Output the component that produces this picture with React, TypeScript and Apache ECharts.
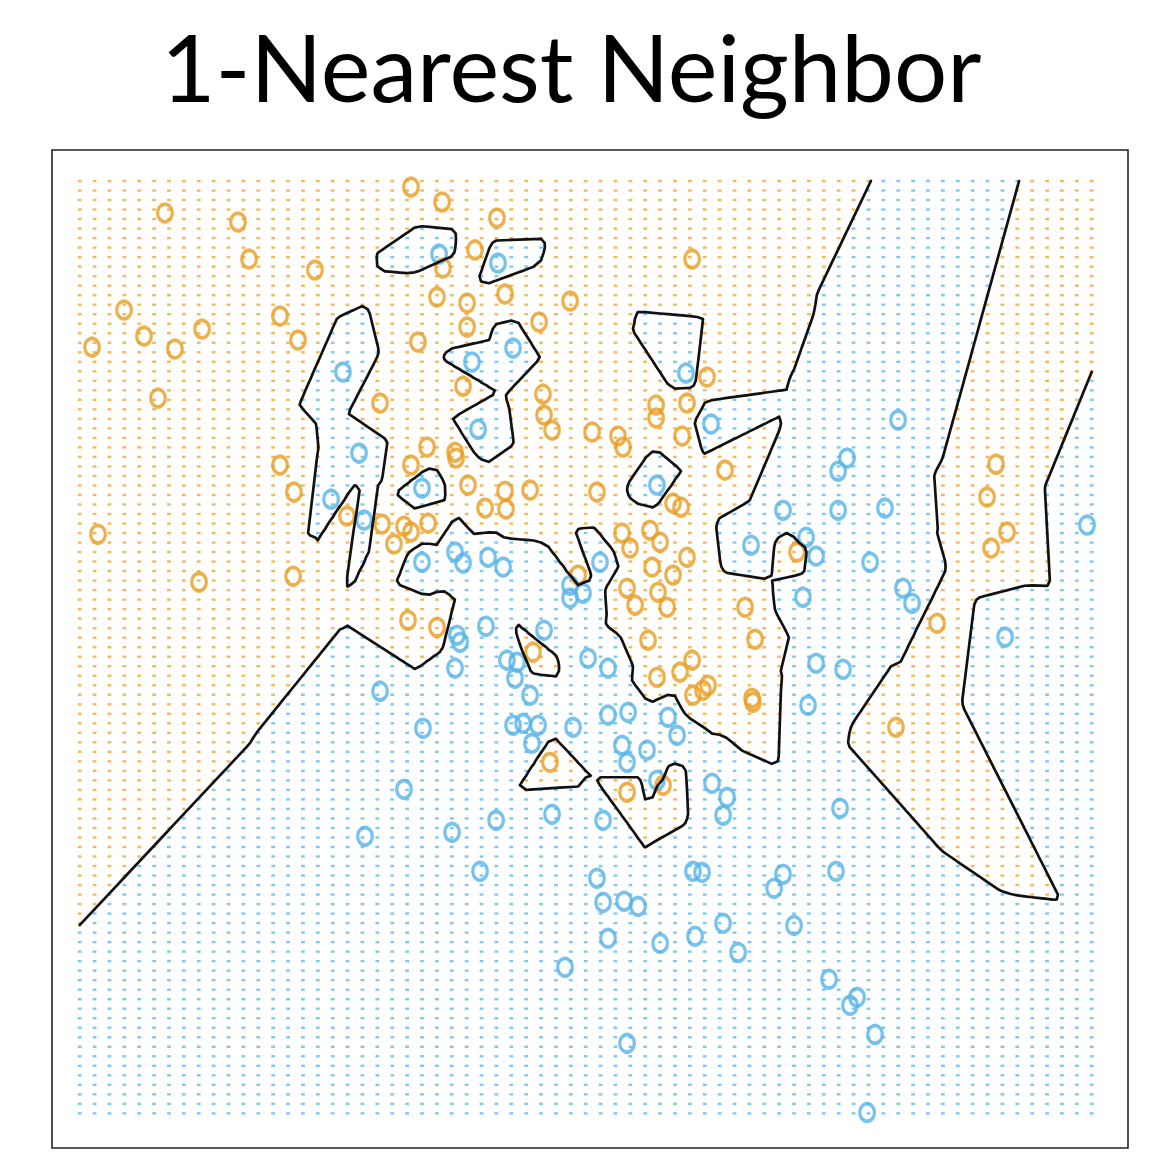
import React, { useEffect, useRef } from "react";
import * as echarts from "echarts";

const TITLE = "1-Nearest Neighbor";

// class "orange" training points (x1, x2)
const orangeX1 = [
  -2.027, -1.536, -1.462, -1.019, -2.302, -2.168, -1.96, -1.778, -2.517, -2.074,
  -1.254, -1.133, -0.374, -0.165, 0.204, 0.056, -0.159, -0.199, 0.003, 0.258,
  0.695, 0.003, 0.487, -0.327, 1.515, -0.582, -0.024, 0.513, 0.52, 0.574,
  0.843, 1.017, 1.051, 1.273, 1.273, 1.481, 1.615, 1.448, 1.736, -0.266,
  -0.078, -0.071, -0.374, -1.254, -1.16, 0.009, 0.258, 0.426, 0.876, 0.124,
  0.265, 1.387, 1.441, -0.804, -0.569, -0.421, -0.374, -0.259, -0.488, -2.477,
  -1.798, -1.166, 1.044, 1.098, 1.232, 1.3, 1.246, 1.387, 1.481, 0.749,
  1.078, 1.132, 1.286, 1.347, 1.871, 1.938, -0.394, -0.199, 0.446, 1.219,
  1.279, 1.434, 1.515, 1.521, 1.588, 1.622, 1.918, 1.924, 2.22, 0.56,
  1.078, 1.32, 3.161, 2.885, 3.557, 3.497, 3.631, 3.524,
];
const orangeX2 = [
  2.732, 2.685, 2.49, 2.432, 2.222, 2.085, 2.017, 2.122, 2.027, 1.759,
  2.19, 2.064, 2.869, 2.79, 2.706, 2.538, 2.443, 2.29, 2.259, 2.306,
  2.269, 2.133, 2.159, 2.054, 2.49, 1.733, 1.822, 1.78, 1.67, 1.591,
  1.581, 1.56, 1.502, 1.723, 1.654, 1.733, 1.87, 1.56, 1.381, 1.502,
  1.475, 1.444, 1.407, 1.407, 1.265, 1.302, 1.27, 1.276, 1.265, 1.181,
  1.176, 1.207, 1.186, 1.139, 1.097, 1.086, 1.055, 1.102, 0.992, 1.044,
  0.792, 0.823, 1.05, 0.971, 1.065, 1.002, 0.871, 0.829, 0.923, 0.829,
  0.76, 0.671, 0.739, 0.66, 0.66, 0.492, 0.592, 0.555, 0.424, 0.487,
  0.292, 0.319, 0.382, 0.198, 0.224, 0.25, 0.182, 0.161, 0.95, -0.155,
  -0.312, -0.276, 0.576, 0.029, 1.412, 1.239, 1.055, 0.971,
];

// class "blue" training points (x1, x2)
const blueX1 = [
  -0.831, -0.723, -0.911, -0.689, -0.185, 0.211, 0.036, 0.312, 0.077, 1.474,
  1.642, 1.279, -0.3, 2.899, 2.556, 2.496, 2.126, 2.496, 2.811, 1.911,
  2.281, 2.348, 2.711, 2.932, 2.993, 2.26, 3.618, 4.169, 2.348, 2.529,
  2.294, 2.509, -0.3, -0.078, -0.024, 0.144, 0.245, 0.896, 0.695, 0.782,
  0.695, -0.065, -0.044, 0.13, 0.52, -0.078, 0.271, 0.339, 0.325, 0.816,
  0.95, 0.426, -0.293, 0.312, 0.379, 0.48, 0.439, 0.715, 0.95, 1.085,
  1.353, 1.414, 1.044, 1.212, 1.078, 1.279, 1.649, 1.75, 1.723, -0.421,
  0.574, 0.917, 0.198, -0.582, -0.683, -0.098, 0.09, 0.876, 0.917, 1.058,
  1.152, 1.521, 1.582, 0.95, 1.3, 1.535, 1.723, 1.824, 0.661, 1.078,
  2.126, 2.066, 2.482, 2.2, 2.435, 2.623, 2.576, 2.744, 2.691,
];
const blueX2 = [
  1.896, 1.47, 1.228, 1.118, 2.516, 2.469, 1.949, 2.022, 1.596, 1.891,
  1.623, 1.302, 1.286, 1.644, 1.444, 1.375, 1.17, 1.17, 1.181, 0.986,
  1.028, 0.929, 0.897, 0.76, 0.681, 0.713, 0.503, 1.092, 0.366, 0.334,
  0.145, -0.396, 0.897, 0.95, 0.892, 0.923, 0.871, 0.897, 0.776, 0.734,
  0.708, 0.513, 0.476, 0.56, 0.539, 0.34, 0.382, 0.371, 0.287, 0.392,
  0.34, 0.198, 0.024, 0.04, 0.05, 0.04, -0.055, 0.029, 0.093, 0.108,
  0.082, -0.013, -0.065, -0.091, -0.155, -0.249, -0.265, -0.339, -0.433, -0.297,
  -0.428, -0.46, -0.46, 0.219, -0.544, -0.523, -0.728, -0.764, -0.891, -0.885,
  -0.912, -0.728, -0.733, -1.08, -1.106, -1.069, -1.001, -1.154, -1.232, -1.632,
  -0.743, -0.817, -0.728, -1.012, -1.295, -1.39, -1.432, -1.585, -1.995,
];

// prediction grid (x1 from -2.6 by 0.1, x2 from -2 by 0.05)
const GRID_X_START = -2.6;
const GRID_X_STEP = 0.1;
const GRID_X_COUNT = 69;
const GRID_Y_START = -2.0;
const GRID_Y_STEP = 0.05;
const GRID_Y_COUNT = 99;
const CONTOUR_REFINE = 2;

const AXIS_X = [-2.786, 4.444];
const AXIS_Y = [-2.182, 3.063];

const ORANGE = "#E79D22";
const BLUE = "#55B3E7";
const ORANGE_DOT = "#F0A835";
const BLUE_DOT = "#5FBCEB";

// signed margin: > 0 when the nearest training point is orange
function margin(x: number, y: number): number {
  let bo = Infinity;
  let bb = Infinity;
  for (let k = 0; k < orangeX1.length; k++) {
    const dx = x - orangeX1[k];
    const dy = y - orangeX2[k];
    const d = dx * dx + dy * dy;
    if (d < bo) bo = d;
  }
  for (let k = 0; k < blueX1.length; k++) {
    const dx = x - blueX1[k];
    const dy = y - blueX2[k];
    const d = dx * dx + dy * dy;
    if (d < bb) bb = d;
  }
  return Math.sqrt(bb) - Math.sqrt(bo);
}

function buildModel() {
  const orangeDots: number[][] = [];
  const blueDots: number[][] = [];
  for (let i = 0; i < GRID_X_COUNT; i++) {
    for (let j = 0; j < GRID_Y_COUNT; j++) {
      const x = GRID_X_START + i * GRID_X_STEP;
      const y = GRID_Y_START + j * GRID_Y_STEP;
      if (margin(x, y) > 0) orangeDots.push([x, y]);
      else blueDots.push([x, y]);
    }
  }
  // finer grid for the decision boundary
  const sx = GRID_X_STEP / CONTOUR_REFINE;
  const sy = GRID_Y_STEP / CONTOUR_REFINE;
  const nx = (GRID_X_COUNT - 1) * CONTOUR_REFINE + 1;
  const ny = (GRID_Y_COUNT - 1) * CONTOUR_REFINE + 1;
  const gx = (i: number) => GRID_X_START + i * sx;
  const gy = (j: number) => GRID_Y_START + j * sy;
  const f: number[][] = [];
  for (let i = 0; i < nx; i++) {
    f.push([]);
    for (let j = 0; j < ny; j++) {
      let m = margin(gx(i), gy(j));
      if (m === 0) m = -1e-9;
      f[i].push(m);
    }
  }
  const pts: Record<string, number[]> = {};
  const segs: string[][] = [];
  const hKey = (i: number, j: number) => {
    const k = "h" + i + "_" + j;
    if (!pts[k]) {
      const a = f[i][j], b = f[i + 1][j];
      const t = a / (a - b);
      pts[k] = [gx(i) + t * sx, gy(j)];
    }
    return k;
  };
  const vKey = (i: number, j: number) => {
    const k = "v" + i + "_" + j;
    if (!pts[k]) {
      const a = f[i][j], b = f[i][j + 1];
      const t = a / (a - b);
      pts[k] = [gx(i), gy(j) + t * sy];
    }
    return k;
  };
  for (let i = 0; i < nx - 1; i++) {
    for (let j = 0; j < ny - 1; j++) {
      const a = f[i][j] > 0, b = f[i + 1][j] > 0, c = f[i + 1][j + 1] > 0, d = f[i][j + 1] > 0;
      const bottom = a !== b ? hKey(i, j) : null;
      const right = b !== c ? vKey(i + 1, j) : null;
      const top = d !== c ? hKey(i, j + 1) : null;
      const left = a !== d ? vKey(i, j) : null;
      const es = [bottom, right, top, left].filter((e) => e !== null) as string[];
      if (es.length === 2) segs.push([es[0], es[1]]);
      else if (es.length === 4) {
        const center = margin(gx(i) + sx / 2, gy(j) + sy / 2) > 0;
        if (center === a) {
          segs.push([bottom!, right!]);
          segs.push([left!, top!]);
        } else {
          segs.push([bottom!, left!]);
          segs.push([top!, right!]);
        }
      }
    }
  }
  const adj: Record<string, number[]> = {};
  segs.forEach((s, idx) => {
    (adj[s[0]] = adj[s[0]] || []).push(idx);
    (adj[s[1]] = adj[s[1]] || []).push(idx);
  });
  const used = new Array(segs.length).fill(false);
  const paths: number[][][] = [];
  const walk = (startKey: string) => {
    const path = [pts[startKey]];
    let key = startKey;
    while (true) {
      const next = (adj[key] || []).find((s) => !used[s]);
      if (next === undefined) break;
      used[next] = true;
      key = segs[next][0] === key ? segs[next][1] : segs[next][0];
      path.push(pts[key]);
    }
    if (path.length > 1) paths.push(path);
  };
  Object.keys(adj).forEach((k) => {
    if (adj[k].length === 1 && !used[adj[k][0]]) walk(k);
  });
  segs.forEach((s, idx) => {
    if (!used[idx]) walk(s[0]);
  });
  return { orangeDots, blueDots, paths };
}

export default function App() {
  const ref = useRef<HTMLDivElement>(null);
  useEffect(() => {
    if (!ref.current) return;
    const chart = echarts.init(ref.current, undefined, { renderer: "svg" });
    const { orangeDots, blueDots, paths } = buildModel();
    const orangePts = orangeX1.map((x, k) => [x, orangeX2[k]]);
    const bluePts = blueX1.map((x, k) => [x, blueX2[k]]);
    chart.setOption({
      animation: false,
      backgroundColor: "#fff",
      title: {
        text: TITLE,
        left: 156,
        top: 13,
        textStyle: { fontFamily: "Lato", fontSize: 94, fontWeight: "normal", color: "#000" },
      },
      grid: {
        left: 52,
        top: 150,
        width: 1076,
        height: 998,
        show: true,
        borderColor: "#222",
        borderWidth: 1.6,
        backgroundColor: "transparent",
      },
      xAxis: { type: "value", min: AXIS_X[0], max: AXIS_X[1], show: false },
      yAxis: { type: "value", min: AXIS_Y[0], max: AXIS_Y[1], show: false },
      series: [
        {
          type: "scatter",
          data: orangeDots,
          symbol: "rect",
          symbolSize: [3.8, 2.4],
          itemStyle: { color: ORANGE_DOT },
          silent: true,
          progressive: 0,
          large: false,
          z: 1,
        },
        {
          type: "scatter",
          data: blueDots,
          symbol: "rect",
          symbolSize: [3.8, 2.4],
          itemStyle: { color: BLUE_DOT },
          silent: true,
          progressive: 0,
          large: false,
          z: 1,
        },
        {
          type: "scatter",
          data: bluePts,
          symbol: "circle",
          symbolSize: [14.5, 17.5],
          itemStyle: { color: "rgba(0,0,0,0)", borderColor: BLUE, borderWidth: 3.5 },
          silent: true,
          z: 3,
        },
        {
          type: "scatter",
          data: orangePts,
          symbol: "circle",
          symbolSize: [14.5, 17.5],
          itemStyle: { color: "rgba(0,0,0,0)", borderColor: ORANGE, borderWidth: 3.5 },
          silent: true,
          z: 3,
        },
        {
          type: "lines",
          coordinateSystem: "cartesian2d",
          polyline: true,
          data: paths.map((p) => ({ coords: p })),
          lineStyle: { color: "#111", width: 2.7, opacity: 1, cap: "round", join: "round" },
          silent: true,
          z: 5,
        },
      ],
    });
    return () => chart.dispose();
  }, []);
  return (
    <div
      ref={ref}
      style={{ position: "fixed", left: 0, top: 0, width: 1175, height: 1165, background: "#fff" }}
    />
  );
}
